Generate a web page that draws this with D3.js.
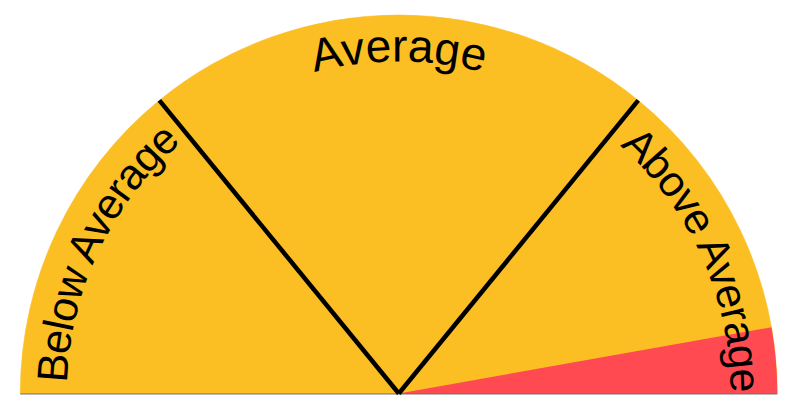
<!DOCTYPE html>
<html>
<head>
<meta charset="utf-8">
<script src="https://cdn.jsdelivr.net/npm/d3@7"></script>
<style>
  html, body { margin: 0; padding: 0; background: #fff; }
  svg { display: block; }
</style>
</head>
<body>
<svg id="chart" width="799" height="403"></svg>
<script>
// ---- data ----
const bandLabels = ["Below Average", "Average", "Above Average"];
const bandStarts = [0, 28.2, 71.8];
const bandEnds   = [28.2, 71.8, 100];
const dividerValues = [28.2, 71.8];
const highlightFrom = 94.4;
const highlightTo = 100;

// ---- layout ----
const W = 799, H = 403;
const cx = 398.8, cy = 393.5, R = 378.5;
const textR = 332;
const labelSizes = [43, 46, 43];
const labelSpacing = [-1, 0, -1];
const labelShiftDeg = [0, 0, 1.1];

const svg = d3.select("#chart");
const defs = svg.append("defs");
const g = svg.append("g").attr("transform", `translate(${cx},${cy})`);

// value -> angle (radians, d3 convention: 0 = up, clockwise positive)
const angle = d3.scaleLinear().domain([0, 100]).range([-Math.PI / 2, Math.PI / 2]);
const arc = d3.arc().innerRadius(0).outerRadius(R);

const bands = bandLabels.map((l, i) => ({ label: l, from: bandStarts[i], to: bandEnds[i], i }));

// gauge background bands
g.selectAll("path.band")
  .data(bands)
  .join("path")
  .attr("class", "band")
  .attr("d", d => arc({ startAngle: angle(d.from), endAngle: angle(d.to) }))
  .attr("fill", "#FBBF24")
  .attr("stroke", "#FBBF24")
  .attr("stroke-width", 0.6);

// highlighted wedge
g.append("path")
  .attr("d", arc({ startAngle: angle(highlightFrom), endAngle: angle(highlightTo) }))
  .attr("fill", "#FF4A52");

// base line
g.append("line")
  .attr("x1", -R).attr("x2", R)
  .attr("y1", 0.5).attr("y2", 0.5)
  .attr("stroke", "rgba(0,0,0,0.55)")
  .attr("stroke-width", 1);

// divider lines
g.selectAll("line.div")
  .data(dividerValues)
  .join("line")
  .attr("class", "div")
  .attr("x1", 0).attr("y1", 0)
  .attr("x2", d => R * Math.sin(angle(d)))
  .attr("y2", d => -R * Math.cos(angle(d)))
  .attr("stroke", "#000")
  .attr("stroke-width", 4.5);

// curved labels
function arcPath(a0, a1, r) {
  const x0 = r * Math.sin(a0), y0 = -r * Math.cos(a0);
  const x1 = r * Math.sin(a1), y1 = -r * Math.cos(a1);
  return `M${x0},${y0} A${r},${r} 0 0 1 ${x1},${y1}`;
}
bands.forEach(b => {
  const s = labelShiftDeg[b.i] * Math.PI / 180;
  defs.append("path")
    .attr("id", "lp" + b.i)
    .attr("d", arcPath(angle(b.from) - 0.3 + s, angle(b.to) + 0.3 + s, textR));
});
g.selectAll("text.lbl")
  .data(bands)
  .join("text")
  .attr("class", "lbl")
  .attr("font-family", "'Liberation Sans', Arial, Helvetica, sans-serif")
  .attr("font-size", d => labelSizes[d.i])
  .attr("letter-spacing", d => labelSpacing[d.i])
  .attr("fill", "#000")
  .append("textPath")
  .attr("href", d => "#lp" + d.i)
  .attr("startOffset", "50%")
  .attr("text-anchor", "middle")
  .text(d => d.label);
</script>
</body>
</html>
